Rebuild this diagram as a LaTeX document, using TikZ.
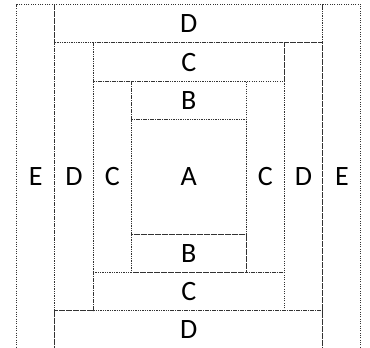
\documentclass[tikz,border=0pt]{standalone}
\usepackage{fontspec}
\setmainfont{Carlito}
\usetikzlibrary{positioning}
\newlength\cellsize
\setlength\cellsize{28.7pt}

\begin{document}
\begin{tikzpicture}[
  x=\cellsize, y=-\cellsize,
  node distance=0pt,
  patch/.style={draw=black!80, densely dotted, line width=0.75pt,
                inner sep=0pt, outer sep=0pt, font=\fontsize{21}{24}\selectfont},
  strip/.style={patch, minimum width=#1*\cellsize, minimum height=\cellsize},
  post/.style={patch, minimum width=\cellsize, minimum height=#1*\cellsize}
]
  \useasboundingbox (-0.436,-0.123) rectangle (9.236,8.95);
  \clip (-0.436,-0.123) rectangle (9.236,8.95);

  % centre square
  \node[patch, minimum width=3*\cellsize, minimum height=3*\cellsize] (A) at (4.5,4.5) {A};

  % B ring: strips above and below
  \node[strip=3, above=of A] (Btop) {B};
  \node[strip=3, below=of A] (Bbot) {B};

  % C ring
  \node[post=5, left=of A]     (Cleft)  {C};
  \node[post=5, right=of A]    (Cright) {C};
  \node[strip=5, above=of Btop] (Ctop)  {C};
  \node[strip=5, below=of Bbot] (Cbot)  {C};

  % D ring
  \node[post=7, left=of Cleft]   (Dleft)  {D};
  \node[post=7, right=of Cright] (Dright) {D};
  \node[strip=7, above=of Ctop]  (Dtop)   {D};
  \node[strip=7, below=of Cbot]  (Dbot)   {D};

  % outer E posts
  \node[post=9, left=of Dleft]   (Eleft)  {E};
  \node[post=9, right=of Dright] (Eright) {E};
\end{tikzpicture}
\end{document}
